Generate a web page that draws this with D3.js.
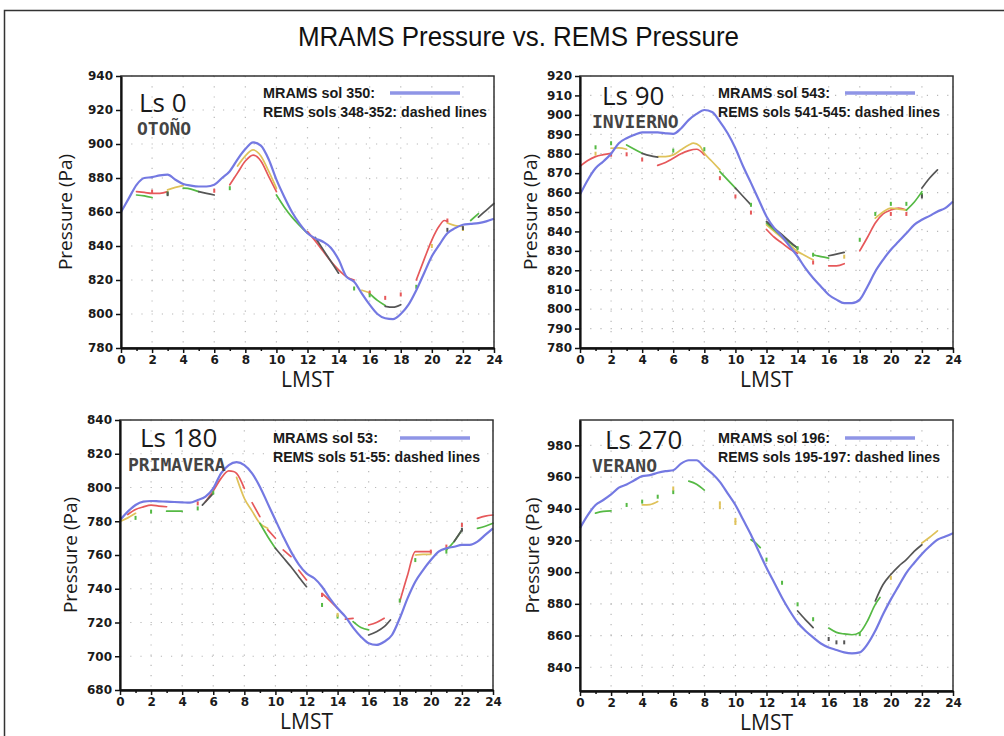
<!DOCTYPE html>
<html>
<head>
<meta charset="utf-8">
<script src="https://cdn.jsdelivr.net/npm/d3@7"></script>
<style>
html,body{margin:0;padding:0;background:#fff;}
svg{display:block;}
</style>
</head>
<body>
<svg id="chart" width="1004" height="736"></svg>
<script>
// ---------------- DATA ----------------
const HOURS = [0,0.5,1,1.5,2,2.5,3,3.5,4,4.5,5,5.5,6,6.5,7,7.5,8,8.5,9,9.5,10,10.5,11,11.5,12,12.5,13,13.5,14,14.5,15,15.5,16,16.5,17,17.5,18,18.5,19,19.5,20,20.5,21,21.5,22,22.5,23,23.5,24];
const X_TICKS = [0,2,4,6,8,10,12,14,16,18,20,22,24];
const X_MINOR = [1,3,5,7,9,11,13,15,17,19,21,23];

// Ls 0
const ls0Ticks = [780,800,820,840,860,880,900,920,940];
const ls0Mrams = [860,868,876,880,880.5,881.5,882,879,876.5,875.5,875,875,876,880,884,891,897,901,899,891,879,869,860,853,847.5,844.5,842.5,839,832,822,819,812,805.5,800,797.5,797,800,805.5,814,824,834,841,847.5,850.5,852.5,853,853.5,854.5,856];
const ls0Red = [[1,872],[1.5,871.5],[2,871],[2.5,871],[3,872],null,[7,876],[7.5,883],[8,890],[8.5,893.5],[9,890],[9.5,881],[10,872],null,[12,848.5],[12.5,843],[13,837],[13.5,831],[14,826],[14.5,822],[15,820],null,[19,820],[19.5,832],[20,843.5],[20.5,852],[20.8,855],[21,854.5]];
const ls0Green = [[1,870],[1.5,869.5],[2,868.5],null,[4,874],[4.5,873.5],[5,872],null,[10,870],[10.5,863],[11,857],[11.5,852],[12,847.5],null,[16,812],[16.5,808],[17,805],null,[22.5,855],[23,859]];
const ls0Yellow = [[3,873],[3.5,874.5],[4,875.5],null,[7.5,887],[8,893],[8.5,896.5],[9,893],[9.5,884],[10,874],null,[15.5,814],[16,812.5],null,[21,853.5],[21.5,852],[22,851.5]];
const ls0Gray = [[5,872],[5.5,871],[6,870],null,[12.5,845],[13,838],[13.5,831],[14,824],null,[17,804.5],[17.5,804],[18,805.5],null,[23,857],[23.5,861],[24,865]];
const ls0DotsRed = [[2,872],[6,872.5],[16,812.5],[17,809.5],[18,811.5],[21,855]];
const ls0DotsGreen = [[3,871],[7,874],[15,815],[16,811],[19,816]];
const ls0DotsYellow = [[20,840],[22,850]];
const ls0DotsGray = [[3,870.5],[21,849.5],[22,850.5]];

// Ls 90
const ls90Ticks = [780,790,800,810,820,830,840,850,860,870,880,890,900,910,920];
const ls90Mrams = [859,866.5,872.5,876,880,885.4,888,889.7,891,891,891,890.5,890.2,893,897.4,900.5,902.5,901.5,896.5,890.5,882.8,873.4,865,856.3,847.7,841.7,837.4,832.3,827.1,821.1,816,811.7,807.4,804.9,803.1,803.1,804.9,811.7,819.4,825.4,830.6,834.8,839,843.4,846,848,850.3,852,855.4];
const ls90Red = [[0,873.5],[0.5,876.5],[1,878.5],[1.5,879.5],[2,880.2],null,[5,874],[5.5,875.5],[6,877.7],[6.5,880],[7,881.6],[7.5,882.3],[8,879.4],null,[12,841],[12.5,837],[13,834],[13.5,831],[14,828.8],null,[16,822.3],[16.5,822.3],[17,823.4],null,[18,830],[18.5,837],[19,844.3],[19.5,849],[20,851],[20.5,852],[21,851]];
const ls90Yellow = [[2,882.8],[2.5,883],[3,882.3],null,[5,878.5],[5.5,878.5],[6,879.4],[6.5,882],[7,884.5],[7.3,885.4],[7.7,884],[8,880.2],[8.5,876],[9,871.7],null,[12,843.4],[12.5,840],[13,836.6],[13.5,833],[14,829.7],[14.5,827.5],[15,825.4],null,[19,846.8],[19.5,850],[20,852],[20.5,851.5],[21,851]];
const ls90Green = [[3,884.5],[3.5,882.3],[4,880.2],null,[9,870.8],[9.5,866.5],[10,862.3],null,[12,844.3],[12.5,840.8],[13,837.4],[13.5,834.2],[14,831.4],null,[15,828],[15.5,827],[16,826.3],null,[21,851],[21.5,855],[22,860.5]];
const ls90Gray = [[4,880.2],[4.5,879],[5,878.2],null,[10,862.3],[10.5,858],[11,853.7],null,[12,845.1],[12.5,841.7],[13,838.3],[13.5,834.8],[14,831.4],null,[16,827.5],[16.5,828.3],[17,829.2],null,[22,862.3],[22.5,867.5],[23,871.7]];
const ls90DotsRed = [[2,879.5],[3,879.7],[4,877],[9,867.4],[10,858],[11,849.7],[15,824],[20,849],[21,849]];
const ls90DotsGreen = [[1,883.3],[2,885.4],[6,881.6],[8,882.3],[11,853.7],[14,831.4],[15,828],[18,835.7],[19,849],[20,854.2],[21,854.2],[22,858.8]];
const ls90DotsYellow = [[1,880],[17,827]];
const ls90DotsGray = [[22,858]];

// Ls 180
const ls180Ticks = [680,700,720,740,760,780,800,820,840];
const ls180Mrams = [780.7,785.7,789.6,791.6,792,791.8,791.6,791.4,791.2,791,792.6,794.6,799.5,808.4,813.3,815,813.3,808.4,800.5,790.6,780.7,771,762,754.5,749.1,746.2,741.2,734.3,728.4,723.5,717,711.6,707.7,706.7,708.6,712.6,722.5,734.3,744.2,751.1,757,762,764,764.9,766,766,767.9,771.9,775.8];
const ls180Red = [[0.5,784],[1,787],[1.5,788.5],[2,789.5],[2.5,789],[3,788.6],null,[5.5,791.6],[6,798],[6.5,805.4],[7,809.8],[7.3,809.5],[7.5,808.4],[8,799.5],null,[8.5,791],[9,782.7],null,[9.5,775],[10,769.9],null,[10.5,763],[11,759],null,[11.5,751],[12,745.2],null,[13,737.3],[13.5,733],[14,728.4],null,[14.5,722],[15,722.5],null,[16,718.5],[16.5,720],[17,722.5],null,[18,732.3],[18.5,748],[19,762],[19.5,762],[20,762],null,[23,781.7],[23.5,783],[24,783.7]];
const ls180Yellow = [[0,779.8],[0.5,782],[1,784.7],null,[7.5,806],[8,793.6],[8.5,786],[9,778.8],[9.5,775.8],null,[19,760],[19.5,760.4],[20,760.4]];
const ls180Green = [[3,786],[3.5,786],[4,786],null,[9,778.8],[9.5,771],[10,764],null,[15,720.5],[15.5,717],[16,715.6],null,[21,763],[21.5,768],[22,774.8],null,[23,775.8],[23.5,777],[24,778.8]];
const ls180Gray = [[5.3,789.6],[5.6,792.5],[6,796.5],null,[10,764],[10.5,758.5],[11,753],[11.5,747],[12,741.2],null,[16,712.6],[16.5,714.5],[17,717.5],[17.4,721.5],null,[21.5,768],[22,774.8]];
const ls180DotsRed = [[5,790.6],[13,736.3],[20,762],[21,765],[22,777.8]];
const ls180DotsGreen = [[1,782],[2,785.7],[5,787.6],[6,797],[13,730.4],[14,723.5],[18,733],[19,757],[21,762]];
const ls180DotsYellow = [[14,724.5]];
const ls180DotsGray = [[22,775]];

// Ls 270
const ls270Ticks = [840,860,880,900,920,940,960,980];
const ls270Mrams = [927.8,936,942.4,945.5,949,953.3,955.3,958,960.6,961.2,962.7,963.7,964.3,968.5,970.6,970.6,966.4,962.2,957,949.7,942.4,933,923.6,913.1,902.7,893.3,883.9,875.5,868.2,863,858.8,855,852.5,850.9,849.4,848.8,849.4,854.6,863,873.4,882.8,891.2,899.6,905.8,911.5,916.3,920.5,922.5,924.6];
const ls270Red = [];
const ls270Green = [[1,937.2],[1.5,938.3],[2,938.6],null,[7,957.4],[7.5,955.5],[8,951.8],null,[11,920.5],[11.3,918.5],[11.6,915.5],null,[16,864.7],[16.5,862],[17,861],[17.5,860.5],[18,862],[18.5,869.3],[19,879.7],[19.3,884]];
const ls270Yellow = [[4,942.4],[4.5,942.6],[5,944.5],null,[22,918.4],[22.5,922],[23,926.1]];
const ls270Gray = [[14,875.5],[14.5,870],[15,865],null,[19,881.8],[19.5,892.2],[20,898.5],[20.5,903.7],[21,907.9],[21.5,913.1],[22,917.3]];
const ls270DotsRed = [];
const ls270DotsGreen = [[3,942.4],[4,944.5],[5,947.6],[6,950.5],[12,907.9],[13,893.3],[14,879.7],[15,870.3],[18,860.9]];
const ls270DotsYellow = [[6,952.8],[9,943.4],[9,941],[10,933],[10,931],[20,896.4]];
const ls270DotsGray = [[16,857.8],[16.5,855.7],[17,855.7]];

const TITLE = "MRAMS Pressure vs. REMS Pressure";
const SEASON_LABELS = ["Ls 0","Ls 90","Ls 180","Ls 270"];
const SEASON_NAMES = ["OTOÑO","INVIERNO","PRIMAVERA","VERANO"];
const LEGEND_MRAMS = ["MRAMS sol 350:","MRAMS sol 543:","MRAMS sol 53:","MRAMS sol 196:"];
const LEGEND_REMS = ["REMS sols 348-352: dashed lines","REMS sols 541-545: dashed lines","REMS sols 51-55: dashed lines","REMS sols 195-197: dashed lines"];

// ---------------- STYLE ----------------
const COLORS = {blue:"#7479e2", red:"#e6585a", green:"#55b944", yellow:"#dfc25a", gray:"#555555"};
const LEG_FONT = "'Liberation Sans',Arial,sans-serif";

const svg = d3.select("#chart");
svg.append("rect").attr("x",0).attr("y",0).attr("width",1004).attr("height",736).attr("fill","#fff");
// outer frame (left and top visible)
svg.append("path").attr("d","M4.5,736 L4.5,10.5 L1004,10.5").attr("fill","none").attr("stroke","#333").attr("stroke-width",1.5);

svg.append("text").attr("x",298).attr("y",46)
  .attr("font-family","'Liberation Sans',Arial,sans-serif").attr("font-size",27)
  .attr("textLength",441).attr("lengthAdjust","spacingAndGlyphs")
  .attr("fill","#111").text(TITLE);

const panels = [
  {x:121,y:76,w:373,h:272,domain:[780,940],ticks:ls0Ticks,mrams:ls0Mrams,
   lines:[[ls0Red,"red"],[ls0Green,"green"],[ls0Yellow,"yellow"],[ls0Gray,"gray"]],
   dots:[[ls0DotsRed,"red"],[ls0DotsGreen,"green"],[ls0DotsYellow,"yellow"],[ls0DotsGray,"gray"]],
   lsX:139,lsY:112,snX:137,snY:135,legX:263,legY:98,legW1:112,legW2:224,ylabX:72},
  {x:580,y:76,w:373,h:272,domain:[780,920],ticks:ls90Ticks,mrams:ls90Mrams,
   lines:[[ls90Red,"red"],[ls90Yellow,"yellow"],[ls90Green,"green"],[ls90Gray,"gray"]],
   dots:[[ls90DotsRed,"red"],[ls90DotsGreen,"green"],[ls90DotsYellow,"yellow"],[ls90DotsGray,"gray"]],
   lsX:602,lsY:105,snX:592,snY:128,legX:718,legY:98,legW1:112,legW2:222,ylabX:537},
  {x:120,y:420,w:373,h:270,domain:[680,840],ticks:ls180Ticks,mrams:ls180Mrams,
   lines:[[ls180Red,"red"],[ls180Yellow,"yellow"],[ls180Green,"green"],[ls180Gray,"gray"]],
   dots:[[ls180DotsRed,"red"],[ls180DotsGreen,"green"],[ls180DotsYellow,"yellow"],[ls180DotsGray,"gray"]],
   lsX:140,lsY:447,snX:128,snY:471,legX:273,legY:443,legW1:105,legW2:207,ylabX:77},
  {x:580,y:420,w:373,h:271,domain:[825,996],ticks:ls270Ticks,mrams:ls270Mrams,
   lines:[[ls270Red,"red"],[ls270Green,"green"],[ls270Yellow,"yellow"],[ls270Gray,"gray"]],
   dots:[[ls270DotsRed,"red"],[ls270DotsGreen,"green"],[ls270DotsYellow,"yellow"],[ls270DotsGray,"gray"]],
   lsX:605,lsY:449,snX:592,snY:472,legX:718,legY:443,legW1:112,legW2:222,ylabX:539}
];

panels.forEach((p,i) => {
  const g = svg.append("g");
  const x = d3.scaleLinear().domain([0,24]).range([p.x, p.x+p.w]);
  const y = d3.scaleLinear().domain(p.domain).range([p.y+p.h, p.y]);

  // grid
  g.append("g").selectAll("line").data(p.ticks).join("line")
    .attr("x1",p.x).attr("x2",p.x+p.w).attr("y1",d=>y(d)).attr("y2",d=>y(d))
    .attr("stroke","#b8b8b8").attr("stroke-width",1.2).attr("stroke-dasharray","1.2,9");
  g.append("g").selectAll("line").data(X_TICKS).join("line")
    .attr("x1",d=>x(d)).attr("x2",d=>x(d)).attr("y1",p.y).attr("y2",p.y+p.h)
    .attr("stroke","#b8b8b8").attr("stroke-width",1.2).attr("stroke-dasharray","1.2,9");

  const line = d3.line().defined(d => d !== null).x(d => x(d[0])).y(d => y(d[1])).curve(d3.curveMonotoneX);

  // REMS lines
  p.lines.forEach(([data,c]) => {
    if (!data.length) return;
    g.append("path").datum(data).attr("d",line).attr("fill","none")
      .attr("stroke",COLORS[c]).attr("stroke-width",1.7).attr("stroke-linejoin","round").attr("stroke-linecap","round");
  });
  // REMS hourly points
  p.dots.forEach(([data,c]) => {
    g.append("g").selectAll("rect").data(data).join("rect")
      .attr("x",d=>x(d[0])-1).attr("y",d=>y(d[1])-2).attr("width",2).attr("height",4)
      .attr("fill",COLORS[c]);
  });

  // MRAMS
  const mramsPts = HOURS.map((h,k) => [h, p.mrams[k]]);
  g.append("path").datum(mramsPts).attr("d",line).attr("fill","none")
    .attr("stroke",COLORS.blue).attr("stroke-width",2.2).attr("stroke-linejoin","round");

  // frame
  g.append("rect").attr("x",p.x).attr("y",p.y).attr("width",p.w).attr("height",p.h)
    .attr("fill","none").attr("stroke","#333").attr("stroke-width",1.5);

  // axes
  const ay = g.append("g").attr("transform",`translate(${p.x},0)`)
    .call(d3.axisLeft(y).tickValues(p.ticks).tickSize(5).tickSizeOuter(0).tickPadding(3).tickFormat(d3.format("d")));
  const ax = g.append("g").attr("transform",`translate(0,${p.y+p.h})`)
    .call(d3.axisBottom(x).tickValues(X_TICKS).tickSize(5).tickSizeOuter(0).tickPadding(2).tickFormat(d3.format("d")));
  const axm = g.append("g").attr("transform",`translate(0,${p.y+p.h})`)
    .call(d3.axisBottom(x).tickValues(X_MINOR).tickSize(3).tickSizeOuter(0).tickFormat(""));
  [ay,ax,axm].forEach(a => {
    a.select(".domain").attr("stroke","#111").attr("stroke-width",2.2);
    a.selectAll(".tick line").attr("stroke","#111").attr("stroke-width",1.5);
    a.selectAll("text").attr("font-family","'DejaVu Sans',sans-serif").attr("font-weight","bold")
      .attr("font-size",12).attr("fill","#1a1a1a");
  });

  // axis titles
  g.append("text").attr("x",p.x+p.w/2).attr("y",p.y+p.h+39).attr("text-anchor","middle")
    .attr("font-family","'Open Sans',sans-serif").attr("font-size",21).attr("fill","#1a1a1a").text("LMST");
  g.append("text").attr("transform",`translate(${p.ylabX},${p.y+p.h/2}) rotate(-90)`).attr("text-anchor","middle")
    .attr("font-family","'Open Sans',sans-serif").attr("font-size",19).attr("fill","#1a1a1a").text("Pressure (Pa)");

  // season labels
  g.append("text").attr("x",p.lsX).attr("y",p.lsY).attr("font-family","'Open Sans',sans-serif")
    .attr("font-size",26).attr("fill","#1a1a1a").text(SEASON_LABELS[i]);
  g.append("text").attr("x",p.snX).attr("y",p.snY).attr("font-family","'DejaVu Sans Mono',monospace")
    .attr("font-weight","bold").attr("font-size",18).attr("fill","#444").text(SEASON_NAMES[i]);

  // legend
  g.append("text").attr("x",p.legX).attr("y",p.legY).attr("font-family",LEG_FONT)
    .attr("font-weight","bold").attr("font-size",15).attr("fill","#1a1a1a")
    .attr("textLength",p.legW1).attr("lengthAdjust","spacingAndGlyphs").text(LEGEND_MRAMS[i]);
  g.append("line").attr("x1",p.legX+127).attr("x2",p.legX+197).attr("y1",p.legY-5).attr("y2",p.legY-5)
    .attr("stroke","#8f95e6").attr("stroke-width",3.5);
  g.append("text").attr("x",p.legX).attr("y",p.legY+19).attr("font-family",LEG_FONT)
    .attr("font-weight","bold").attr("font-size",15).attr("fill","#1a1a1a")
    .attr("textLength",p.legW2).attr("lengthAdjust","spacingAndGlyphs").text(LEGEND_REMS[i]);
});
</script>
</body>
</html>
